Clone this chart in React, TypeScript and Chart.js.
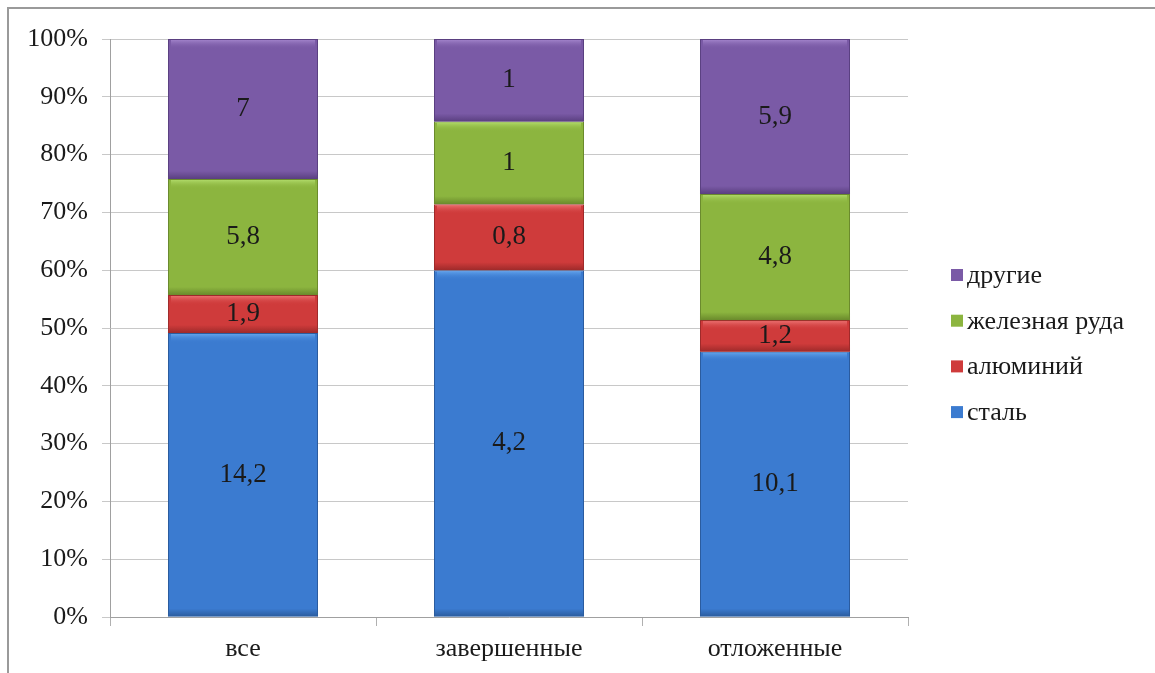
import React, { useEffect, useRef } from "react";
import { Chart, registerables } from "chart.js";

Chart.register(...registerables);

const categories = ["все", "завершенные", "отложенные"];
const steel = [14.2, 4.2, 10.1];
const aluminium = [1.9, 0.8, 1.2];
const ironOre = [5.8, 1, 4.8];
const others = [7, 1, 5.9];
const seriesNames = ["сталь", "алюминий", "железная руда", "другие"];
const seriesColors = ["#3b7bd0", "#cf3b3b", "#8cb53f", "#7a5aa6"];
const seriesDark = ["#2b5c9e", "#9e2a2a", "#6a8a2c", "#5a3f80"];
const seriesLight = ["#6aaaf0", "#f07a7a", "#b6e070", "#a88ad0"];
const yTicks = [0, 10, 20, 30, 40, 50, 60, 70, 80, 90, 100];

const raw = [steel, aluminium, ironOre, others];
const totals = categories.map((_, i) => raw.reduce((s, arr) => s + arr[i], 0));
const pct = raw.map((arr) => arr.map((v, i) => (v / totals[i]) * 100));

const FONT = "'Liberation Serif', 'Times New Roman', serif";

const fmt = (v: number) => String(v).replace(".", ",");

const decorPlugin = {
  id: "decor",
  afterDatasetsDraw(chart: any) {
    const ctx = chart.ctx;
    chart.data.datasets.forEach((ds: any, di: number) => {
      const meta = chart.getDatasetMeta(di);
      meta.data.forEach((el: any, i: number) => {
        const { x, y, base, width } = el.getProps(["x", "y", "base", "width"], true);
        const left = x - width / 2;
        const top = Math.min(y, base);
        const h = Math.abs(base - y);
        ctx.save();
        const g = ctx.createLinearGradient(0, top, 0, top + 10);
        g.addColorStop(0, seriesLight[di]);
        g.addColorStop(1, seriesColors[di] + "00");
        ctx.fillStyle = g;
        ctx.fillRect(left + 3, top + 1, width - 6, Math.min(10, h / 2));
        const g2 = ctx.createLinearGradient(0, top + h - 8, 0, top + h);
        g2.addColorStop(0, seriesDark[di] + "00");
        g2.addColorStop(1, seriesDark[di]);
        ctx.fillStyle = g2;
        ctx.fillRect(left, top + h - Math.min(8, h / 2), width, Math.min(8, h / 2));
        ctx.fillStyle = "#1a1a1a";
        ctx.font = `27px ${FONT}`;
        ctx.textAlign = "center";
        ctx.textBaseline = "middle";
        ctx.fillText(fmt(raw[di][i]), x, top + h / 2);
        ctx.restore();
      });
    });
  },
  afterDraw(chart: any) {
    const ctx = chart.ctx;
    ctx.save();
    ctx.font = `26px ${FONT}`;
    ctx.textBaseline = "middle";
    ctx.textAlign = "left";
    const order = [3, 2, 1, 0];
    order.forEach((di, k) => {
      const cy = 275 + k * 45.7;
      ctx.fillStyle = seriesColors[di];
      ctx.fillRect(951, cy - 6, 12, 12);
      ctx.fillStyle = "#1a1a1a";
      ctx.fillText(seriesNames[di], 967, cy + 1);
    });
    ctx.restore();
  },
};

export default function App() {
  const ref = useRef<HTMLCanvasElement>(null);
  useEffect(() => {
    if (!ref.current) return;
    const chart = new Chart(ref.current, {
      type: "bar",
      data: {
        labels: categories,
        datasets: pct.map((d, i) => ({
          label: seriesNames[i],
          data: d,
          backgroundColor: seriesColors[i],
          borderColor: seriesDark[i],
          borderWidth: 1,
          barPercentage: 0.564,
          categoryPercentage: 1,
        })),
      },
      options: {
        animation: false,
        responsive: false,
        maintainAspectRatio: false,
        layout: { padding: { left: 0, right: 247, top: 39, bottom: 0 } },
        plugins: {
          legend: { display: false },
          tooltip: { enabled: false },
          title: { display: false },
        },
        scales: {
          x: {
            stacked: true,
            grid: {
              display: true,
              drawOnChartArea: false,
              drawTicks: true,
              tickLength: 9,
              color: "#b0b0b0",
            },
            border: { color: "#a0a0a0" },
            ticks: {
              color: "#1a1a1a",
              font: { family: FONT, size: 26 },
              padding: 8,
            },
            afterFit: (s: any) => {
              s.height = 56;
            },
          },
          y: {
            stacked: true,
            min: 0,
            max: 100,
            afterBuildTicks: (s: any) => {
              s.ticks = yTicks.map((v) => ({ value: v }));
            },
            grid: { color: "#c8c8c8", tickLength: 8 },
            border: { color: "#a0a0a0" },
            ticks: {
              color: "#1a1a1a",
              font: { family: FONT, size: 26 },
              padding: 14,
              callback: (v: any) => v + "%",
            },
            afterFit: (s: any) => {
              s.width = 110;
            },
          },
        },
      },
      plugins: [decorPlugin],
    });
    return () => chart.destroy();
  }, []);
  return (
    <div style={{ position: "fixed", left: 0, top: 0, width: 1155, height: 673, background: "#fff" }}>
      <div
        style={{
          position: "absolute",
          left: 7,
          top: 7,
          right: 0,
          bottom: 0,
          borderTop: "2px solid #9a9a9a",
          borderLeft: "2px solid #9a9a9a",
        }}
      />
      <canvas ref={ref} width={1155} height={673} style={{ position: "absolute", left: 0, top: 0 }} />
    </div>
  );
}
